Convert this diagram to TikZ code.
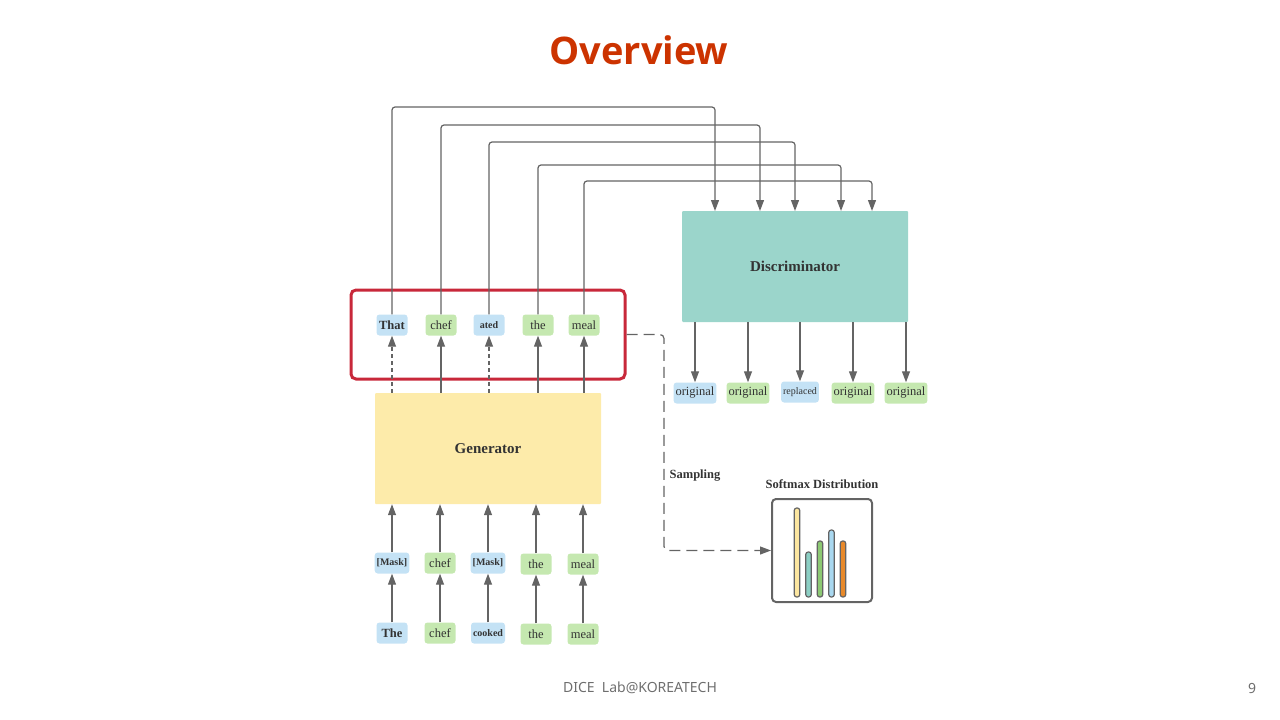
\documentclass[tikz,border=0pt]{standalone}
\usepackage{fontspec}
\setmainfont{Liberation Serif}
\newfontfamily\titlefont{Open Sans}
\newfontfamily\footfont{Noto Sans}
\usetikzlibrary{arrows.meta}
\usetikzlibrary{positioning}
\definecolor{tokblue}{RGB}{196,226,245}
\definecolor{tokgreen}{RGB}{197,232,176}
\definecolor{genyellow}{RGB}{253,235,170}
\definecolor{discteal}{RGB}{155,213,203}
\definecolor{linegray}{RGB}{100,100,100}
\definecolor{txtgray}{RGB}{51,51,51}
\definecolor{boxred}{RGB}{200,40,58}
\definecolor{titlered}{RGB}{204,51,0}
\definecolor{footgray}{RGB}{110,110,110}
\definecolor{baryellow}{RGB}{252,230,160}
\definecolor{barteal}{RGB}{140,207,196}
\definecolor{bargreen}{RGB}{141,201,116}
\definecolor{barblue}{RGB}{169,216,240}
\definecolor{barorange}{RGB}{232,137,42}
\newcommand{\smb}[1]{{\fontsize{10}{10}\selectfont\bfseries #1}}
\tikzstyle{token}=[rounded corners=3pt,text=txtgray,minimum width=31pt,minimum height=21pt,inner xsep=2pt,inner ysep=0pt,font=\fontsize{12.5}{12.5}\selectfont]
\tikzstyle{block}=[rounded corners=1pt,text=txtgray,font=\fontsize{15}{15}\selectfont\bfseries]
\tikzstyle{link}=[draw=linegray,line width=1.2pt,-{Triangle[length=11pt,width=8pt]}]
\tikzstyle{dashlink}=[link,dash pattern=on 4pt off 3pt]
\tikzstyle{toplink}=[link,rounded corners=3pt]
\tikzstyle{sample}=[draw=linegray,line width=1.2pt,dash pattern=on 11pt off 6pt,rounded corners=4pt,-{Triangle[length=11pt,width=8pt]}]
\tikzstyle{caption}=[text=txtgray,font=\fontsize{12.5}{12.5}\selectfont\bfseries]
\tikzstyle{bar}=[draw=linegray,line width=1.2pt,rounded corners=2.5pt]

\begin{document}
\begin{tikzpicture}[x=1pt,y=-1pt]
    \useasboundingbox (0,0) rectangle (1280,720);

    % title and footer
    \node[text=titlered,font=\titlefont\fontsize{38}{38}\selectfont\bfseries] (title) at (639,50) {Overview};
    \node[text=footgray,font=\footfont\fontsize{14}{14}\selectfont] (foot) at (640,688) {DICE\ \ Lab@KOREATECH};
    \node[text=footgray,font=\footfont\fontsize{14}{14}\selectfont] (page) at (1252,688) {9};

    % blocks
    \node[block,fill=genyellow,minimum width=226pt,minimum height=111pt] (G) at (488,448.5) {Generator};
    \node[block,fill=discteal,minimum width=226pt,minimum height=111pt] (D) at (795,266.5) {Discriminator};
    \node[draw=boxred,line width=3pt,rounded corners=5pt,minimum width=274pt,minimum height=89pt] (R) at (488,334.5) {};
    \node[draw=linegray,line width=2pt,rounded corners=4pt,minimum width=100pt,minimum height=103pt] (S) at (822,550.5) {};
    \node[caption] (Slabel) at (822,484) {Softmax Distribution};
    \node[caption] (samp) at (695,476) {Sampling};

    % token rows
    \foreach \pos/\name/\col/\label in {{(392,325)/tA/tokblue/\textbf{That}}, {(441,325)/tB/tokgreen/chef}, {(489,325)/tC/tokblue/\smb{ated}}, {(538,325)/tD/tokgreen/the}, {(584,325)/tE/tokgreen/meal}}
        \node[token,fill=\col] (\name) at \pos {\label};

    \foreach \pos/\name/\col/\label in {{(392,563)/mA/tokblue/\smb{[Mask]}}, {(440,563)/mB/tokgreen/chef}, {(488,563)/mC/tokblue/\smb{[Mask]}}, {(536,564)/mD/tokgreen/the}, {(583,564)/mE/tokgreen/meal}}
        \node[token,fill=\col] (\name) at \pos {\label};

    \foreach \pos/\name/\col/\label in {{(392,633)/bA/tokblue/\textbf{The}}, {(440,633)/bB/tokgreen/chef}, {(488,633)/bC/tokblue/\smb{cooked}}, {(536,634)/bD/tokgreen/the}, {(583,634)/bE/tokgreen/meal}}
        \node[token,fill=\col] (\name) at \pos {\label};

    \foreach \pos/\name/\col/\label in {{(695,393)/oA/tokblue/original}, {(748,393)/oB/tokgreen/original}, {(800,392)/oC/tokblue/\fontsize{10}{10}\selectfont replaced}, {(853,393)/oD/tokgreen/original}, {(906,393)/oE/tokgreen/original}}
        \node[token,fill=\col] (\name) at \pos {\label};

    % connectors
    \foreach \src/\dst in {bA/mA, bB/mB, bC/mC, bD/mD, bE/mE}
        \path[link] (\src.north) -- (\dst.south);

    \foreach \src in {mA, mB, mC, mD, mE}
        \path[link] (\src.north) -- (G.south -| \src);

    \foreach \dst in {tB, tD, tE}
        \path[link] (G.north -| \dst) -- (\dst.south);

    \foreach \dst in {tA, tC}
        \path[dashlink] (G.north -| \dst) -- (\dst.south);

    \foreach \src/\x/\lev in {tA/715/107, tB/760/125, tC/795/142, tD/841/165, tE/872/181}
        \path[toplink] (\src.north) |- (\x,\lev) -- (\x,211);

    \foreach \dst in {oA, oB, oC, oD, oE}
        \path[link] (D.south -| \dst) -- (\dst.north);

    \coordinate (sampA) at (664,450);
    \path[sample] (R.east) -| (sampA) |- (S.west);

    % softmax bars
    \foreach \x/\top/\col in {797/508/baryellow, 808.5/552/barteal, 820/541/bargreen, 831.5/530/barblue, 843/541/barorange}
        \path[bar,fill=\col] (\x-2.8,597) rectangle (\x+2.8,\top);

\end{tikzpicture}
\end{document}
